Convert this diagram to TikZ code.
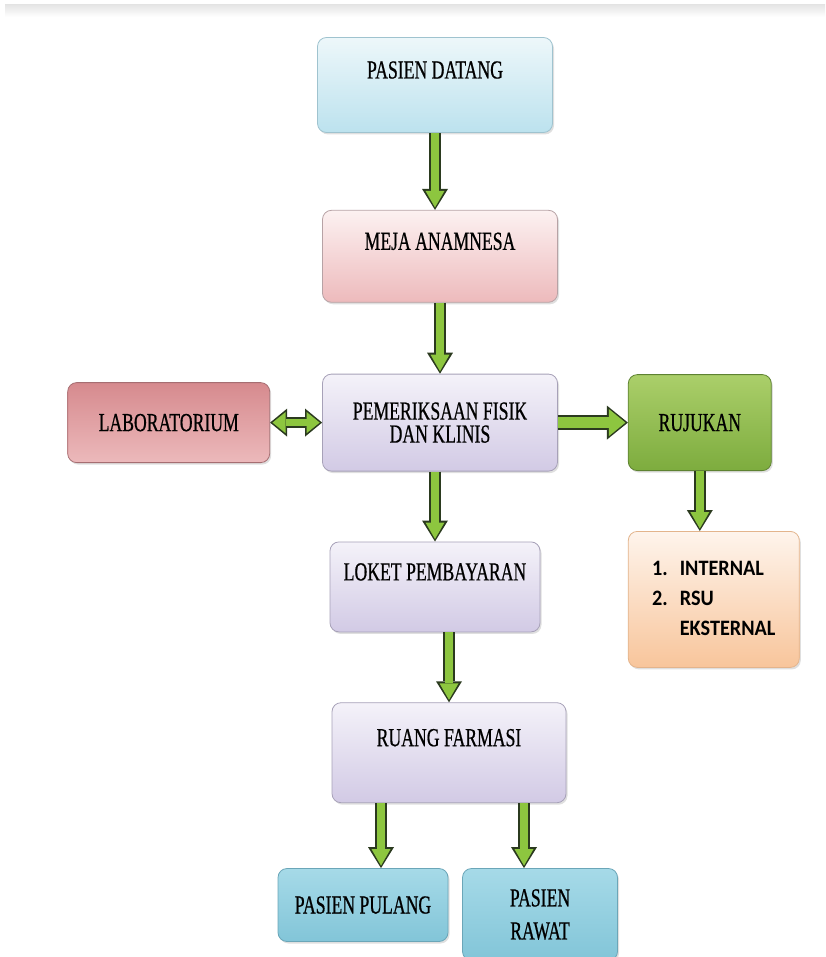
\documentclass[tikz,border=0pt]{standalone}
\usepackage{fontspec}
\setmainfont{Liberation Serif}[FakeStretch=0.68, FakeBold=0.6]
\newfontfamily\listfont{Carlito}[FakeStretch=0.92]
\usetikzlibrary{arrows.meta, positioning, shadows}

\definecolor{arrowfill}{HTML}{8DC63F}
\definecolor{arrowline}{HTML}{2B3A1F}
\definecolor{datangtop}{HTML}{EDF7FA}
\definecolor{datangbot}{HTML}{BCE2EE}
\definecolor{datangline}{HTML}{9FC3CF}
\definecolor{anamtop}{HTML}{FCF1F1}
\definecolor{anambot}{HTML}{EDBABC}
\definecolor{anamline}{HTML}{B7A2A5}
\definecolor{lavtop}{HTML}{F4F2F9}
\definecolor{lavbot}{HTML}{D2CAE5}
\definecolor{lavline}{HTML}{A7A1B8}
\definecolor{labtop}{HTML}{D68A8E}
\definecolor{labbot}{HTML}{ECB9BB}
\definecolor{labline}{HTML}{A66E72}
\definecolor{rujtop}{HTML}{ABCF6A}
\definecolor{rujbot}{HTML}{7DAC3E}
\definecolor{rujline}{HTML}{5E8232}
\definecolor{listtop}{HTML}{FEF4EC}
\definecolor{listbot}{HTML}{F8C59B}
\definecolor{listline}{HTML}{E3B48C}
\definecolor{pasientop}{HTML}{A6DAE8}
\definecolor{pasienbot}{HTML}{82C5D8}
\definecolor{pasienline}{HTML}{6BA6B8}

\newcommand{\flowfont}{\fontsize{26}{23}\selectfont}

\begin{document}
\begin{tikzpicture}[
  x=1pt, y=-1pt,
  box/.style={
    draw, rounded corners=9pt, line width=0.8pt,
    inner sep=2pt, align=center, font=\flowfont,
    drop shadow={shadow xshift=1.5pt, shadow yshift=-2pt, opacity=0.25}
  },
  lift/.style={text height=17pt, text depth=#1},
  lift/.default=0pt,
  datangbox/.style={box, top color=datangtop, bottom color=datangbot, draw=datangline},
  anambox/.style={box, top color=anamtop, bottom color=anambot, draw=anamline},
  lavbox/.style={box, top color=lavtop, bottom color=lavbot, draw=lavline},
  labbox/.style={box, top color=labtop, bottom color=labbot, draw=labline},
  rujbox/.style={box, top color=rujtop, bottom color=rujbot, draw=rujline},
  listbox/.style={box, top color=listtop, bottom color=listbot, draw=listline},
  pasienbox/.style={box, top color=pasientop, bottom color=pasienbot, draw=pasienline},
  flow/.style={
    preaction={draw=arrowline, line width=12pt, shorten >=0pt,
      -{Triangle[length=21pt, width=26pt, line width=0pt]}},
    draw=arrowfill, line width=8pt, shorten >=2.5pt,
    -{Triangle[length=16.5pt, width=19pt, line width=0pt]}
  },
  flowwide/.style={
    preaction={draw=arrowline, line width=15pt, shorten >=0pt,
      -{Triangle[length=21pt, width=34pt, line width=0pt]}},
    draw=arrowfill, line width=11pt, shorten >=2.5pt,
    -{Triangle[length=16.5pt, width=27pt, line width=0pt]}
  },
  flowboth/.style={
    preaction={draw=arrowline, line width=11pt, shorten >=0pt, shorten <=0pt,
      {Triangle[length=17pt, width=28pt, line width=0pt]}-{Triangle[length=17pt, width=28pt, line width=0pt]}},
    draw=arrowfill, line width=7.5pt, shorten >=2.4pt, shorten <=2.4pt,
    {Triangle[length=13pt, width=21pt, line width=0pt]}-{Triangle[length=13pt, width=21pt, line width=0pt]}
  }
]
  \useasboundingbox (0,0) rectangle (825,957);
  \shade[top color=black!10, bottom color=white] (5,5) rectangle (825,17);

  % main column
  \node[datangbox, lift=30pt, minimum width=235pt, minimum height=95pt] (datang) at (435,85) {PASIEN DATANG};
  \node[anambox, lift=30pt, minimum width=235pt, minimum height=92pt, below=77pt of datang, xshift=5pt] (anamnesa) {MEJA ANAMNESA};
  \node[lavbox, minimum width=235pt, minimum height=97pt, below=71pt of anamnesa] (fisik) {PEMERIKSAAN FISIK\\DAN KLINIS};
  \node[lavbox, lift=30pt, minimum width=210pt, minimum height=90pt, below=70pt of fisik, xshift=-5pt] (loket) {LOKET PEMBAYARAN};
  \node[lavbox, lift=30pt, minimum width=234pt, minimum height=100pt, below=70pt of loket, xshift=14pt] (farmasi) {RUANG FARMASI};

  % side boxes
  \node[labbox, lift, minimum width=202pt, minimum height=80pt, left=52pt of fisik] (lab) {LABORATORIUM};
  \node[rujbox, lift, minimum width=143pt, minimum height=96pt, right=70pt of fisik] (rujukan) {RUJUKAN};
  \node[listbox, minimum width=171pt, minimum height=136pt, below=60pt of rujukan, xshift=14pt,
        font=\listfont\bfseries\fontsize{22}{30}\selectfont] (rujlist)
    {\begin{tabular}{@{}l@{\hspace{12pt}}l@{}}1. & INTERNAL\\2. & RSU\\ & EKSTERNAL\end{tabular}};

  % exits
  \node[pasienbox, lift, minimum width=170pt, minimum height=73pt, below=65pt of farmasi, xshift=-86pt] (pulang) {PASIEN PULANG};
  \node[pasienbox, minimum width=155pt, minimum height=92pt, below=65pt of farmasi, xshift=91pt] (rawat) {PASIEN\\[10pt]RAWAT};

  \draw[flow] (datang.south) -- (datang.south |- anamnesa.north);
  \draw[flow] (anamnesa.south) -- (fisik.north);
  \draw[flowboth] (lab.east) -- (fisik.west);
  \draw[flowwide] (fisik.east) -- (rujukan.west);
  \draw[flow] (rujukan.south) -- (rujukan.south |- rujlist.north);
  \draw[flow] (loket.north |- fisik.south) -- (loket.north);
  \draw[flow] (farmasi.north |- loket.south) -- (farmasi.north);
  \draw[flow] ([xshift=18pt]pulang.north |- farmasi.south) -- ([xshift=18pt]pulang.north);
  \draw[flow] ([xshift=-16pt]rawat.north |- farmasi.south) -- ([xshift=-16pt]rawat.north);

\end{tikzpicture}
\end{document}
